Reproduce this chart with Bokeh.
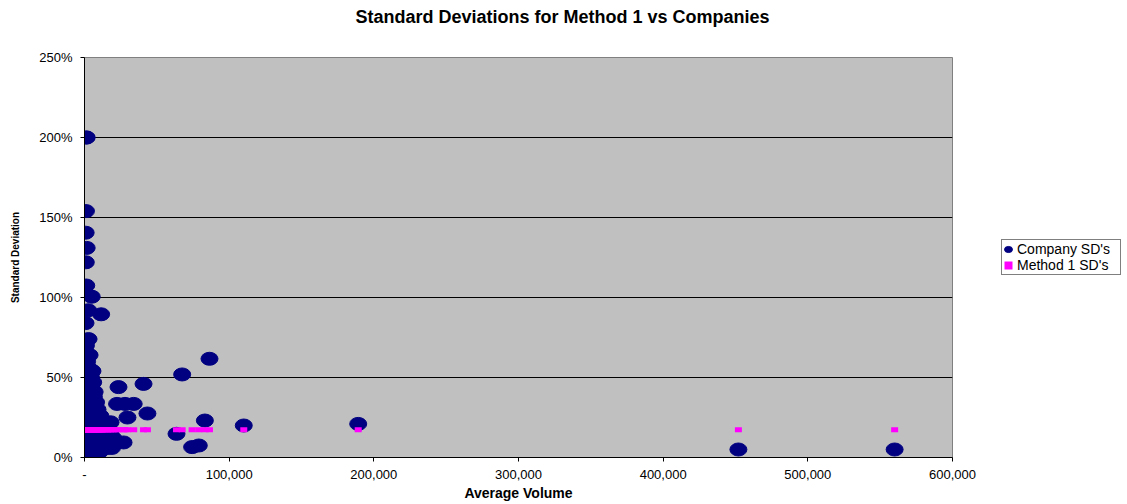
from bokeh.plotting import figure
from bokeh.layouts import row
from bokeh.models import (Range1d, FixedTicker, NumeralTickFormatter, Legend, LegendItem,
                          ColumnDataSource, Title)
from bokeh.embed import file_html
from bokeh.resources import INLINE

# ---------------- data ----------------
title_text = "Standard Deviations for Method 1 vs Companies"
x_label = "Average Volume"
y_label = "Standard Deviation"
series_names = ["Company SD's", "Method 1 SD's"]

company_volume = [
    1500, 1200, 1000, 800, 1500, 900, 1200, 900, 5000, 2500,
    11500, 700, 2800, 1000, 3500, 500, 1800, 600, 4000, 5500,
    1000, 2500, 4500, 700, 3000, 6000, 1500, 4000, 800, 2500,
    5000, 7000, 1200, 3500, 6500, 500, 2000, 4500, 8000, 1000,
    3000, 5500, 9000, 600, 2000, 4000, 7000, 11000, 1500, 3500,
    6000, 9500, 13000, 800, 2500, 5000, 8000, 12000, 16000, 1000,
    3000, 6500, 10000, 14000, 18000, 600, 2000, 4500, 7500, 11000,
    15000, 1500, 4000, 7000, 10000, 13500, 2500, 5500, 9000, 12500,
    1000, 3500, 7000, 10500, 2000, 5000, 8000, 3500, 6000, 19000,
    18000, 20000, 16000,
    23500, 40800, 22500, 28000, 34000, 29700, 43500, 27000,
    63600, 67500, 74400, 79000, 83200, 86400, 110100, 189200,
    452000, 560000,
]
company_sd = [
    2.00, 2.00, 1.54, 1.405, 1.31, 1.22, 1.075, 1.025, 1.005, 0.92,
    0.895, 0.84, 0.74, 0.70, 0.64, 0.62, 0.60, 0.57, 0.55, 0.54,
    0.53, 0.51, 0.50, 0.49, 0.48, 0.47, 0.46, 0.45, 0.44, 0.43,
    0.42, 0.41, 0.40, 0.39, 0.38, 0.37, 0.36, 0.35, 0.345, 0.33,
    0.32, 0.31, 0.30, 0.29, 0.28, 0.275, 0.27, 0.26, 0.25, 0.24,
    0.235, 0.23, 0.22, 0.21, 0.20, 0.195, 0.19, 0.185, 0.18, 0.17,
    0.165, 0.16, 0.155, 0.15, 0.145, 0.14, 0.13, 0.125, 0.12, 0.115,
    0.11, 0.10, 0.095, 0.09, 0.085, 0.08, 0.07, 0.065, 0.06, 0.055,
    0.05, 0.045, 0.04, 0.035, 0.03, 0.025, 0.02, 0.01, 0.005, 0.06,
    0.22, 0.12, 0.06,
    0.44, 0.46, 0.335, 0.335, 0.335, 0.25, 0.275, 0.094,
    0.148, 0.519, 0.065, 0.075, 0.231, 0.617, 0.20, 0.21,
    0.05, 0.05,
]
method1_sd_value = 0.173          # Method 1 gives one SD for every company
method1_volume = company_volume
method1_sd = [method1_sd_value] * len(method1_volume)

x_ticks = [0, 100000, 200000, 300000, 400000, 500000, 600000]
y_ticks = [0, 0.5, 1.0, 1.5, 2.0, 2.5]
grid_ticks = [0.5, 1.0, 1.5, 2.0]

# ---------------- main figure ----------------
FONT = "Liberation Sans"
NAVY = "#000080"
MAGENTA = "#FF00FF"

p = figure(width=985, height=504, output_backend="svg", toolbar_location=None,
           x_range=Range1d(0, 600000), y_range=Range1d(0, 2.5),
           min_border_left=84, min_border_right=33, min_border_top=57, min_border_bottom=47)
p.background_fill_color = "#C0C0C0"
p.border_fill_color = "white"
p.outline_line_color = "#808080"
p.outline_line_width = 1

p.title = Title(text=title_text, align="left", offset=271, vertical_align="bottom",
                text_font=FONT, text_font_size="18px", text_font_style="bold",
                text_color="black", standoff=0, padding=(0, 0, 0, 31))

p.xgrid.visible = False
p.ygrid.ticker = FixedTicker(ticks=grid_ticks)
p.ygrid.grid_line_color = "black"
p.ygrid.grid_line_width = 1

for ax in (p.xaxis[0], p.yaxis[0]):
    ax.axis_line_color = "black"
    ax.major_tick_line_color = "black"
    ax.minor_tick_line_color = None
    ax.major_tick_in = 0
    ax.major_tick_out = 4
    ax.major_label_text_font = FONT
    ax.major_label_text_font_size = "13px"
    ax.major_label_text_color = "black"
    ax.axis_label_text_font = FONT
    ax.axis_label_text_font_style = "bold"
    ax.axis_label_text_color = "black"

p.xaxis.ticker = FixedTicker(ticks=x_ticks)
p.xaxis.formatter = NumeralTickFormatter(format="0,0")
p.xaxis.major_label_overrides = {0: "-"}
p.xaxis.major_label_standoff = 8
p.xaxis.axis_label = x_label
p.xaxis.axis_label_text_font_size = "14px"
p.xaxis.axis_label_standoff = 3

p.yaxis.ticker = FixedTicker(ticks=y_ticks)
p.yaxis.formatter = NumeralTickFormatter(format="0%")
p.yaxis.major_label_standoff = 8
p.yaxis.axis_label = y_label
p.yaxis.axis_label_text_font_size = "10px"
p.yaxis.axis_label_standoff = 15

comp_src = ColumnDataSource(dict(x=company_volume, y=company_sd))
meth_src = ColumnDataSource(dict(x=method1_volume, y=method1_sd))
ell_kw = dict(width=17, height=13, width_units="screen", height_units="screen",
              fill_color=NAVY, line_color=NAVY)
rect_kw = dict(width=7, height=5, width_units="screen", height_units="screen",
               fill_color=MAGENTA, line_color=None)
p.ellipse(x="x", y="y", source=comp_src, **ell_kw)
p.rect(x="x", y="y", source=meth_src, **rect_kw)

# ---------------- legend panel (right of the chart) ----------------
q = figure(width=142, height=504, output_backend="svg", toolbar_location=None,
           x_range=Range1d(-1, 0), y_range=Range1d(-1, 0),
           x_axis_type=None, y_axis_type=None, min_border=0)
q.outline_line_color = None
q.background_fill_color = "white"
q.border_fill_color = "white"
q.grid.visible = False
lc = q.ellipse(x="x", y="y", source=comp_src, **ell_kw)
lm = q.rect(x="x", y="y", source=meth_src, **rect_kw)
legend = Legend(items=[LegendItem(label=series_names[0], renderers=[lc]),
                       LegendItem(label=series_names[1], renderers=[lm])],
                location=(16, 182), orientation="vertical",
                label_text_font=FONT, label_text_font_size="14px", label_text_color="black",
                glyph_width=10, glyph_height=10, label_height=15, label_width=102,
                label_standoff=4, spacing=0, padding=1, margin=0,
                border_line_color="black", border_line_width=1,
                background_fill_color="white", background_fill_alpha=1.0)
q.add_layout(legend, "center")

layout = row(p, q, spacing=0)
open("out.html", "w").write(file_html(layout, INLINE))
